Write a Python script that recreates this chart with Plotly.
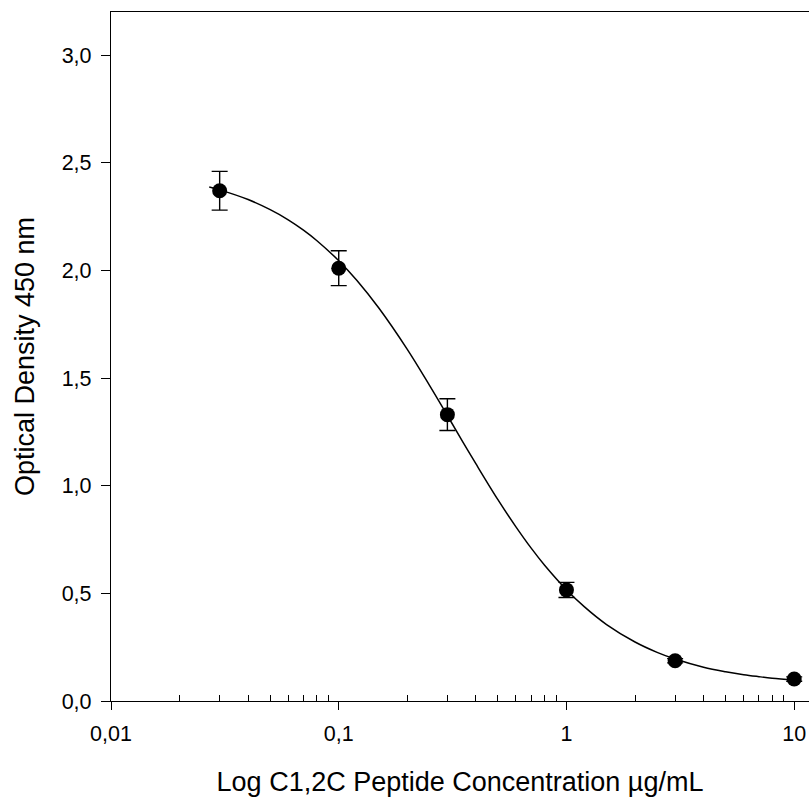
import plotly.graph_objects as go

# Measured points (concentration in µg/mL, optical density at 450 nm)
conc = [0.03, 0.1, 0.3, 1.0, 3.0, 10.0]
od = [2.37, 2.01, 1.33, 0.516, 0.187, 0.102]
od_err = [0.09, 0.081, 0.074, 0.035, 0.01, 0.01]

# Fitted curve values
curve_x = [0.027, 0.03, 0.04, 0.05, 0.06, 0.07, 0.08, 0.1, 0.12, 0.15, 0.2, 0.25,
           0.3, 0.35, 0.4, 0.5, 0.6, 0.7, 0.8, 1.0, 1.2, 1.5, 2.0, 2.5, 3.0, 4.0,
           5.0, 6.0, 7.0, 8.0, 10.0]
curve_y = [2.387, 2.374, 2.329, 2.282, 2.235, 2.187, 2.139, 2.045, 1.954, 1.825,
           1.633, 1.467, 1.326, 1.205, 1.102, 0.935, 0.809, 0.710, 0.632, 0.517,
           0.437, 0.355, 0.274, 0.226, 0.195, 0.157, 0.136, 0.122, 0.113, 0.106,
           0.097]

x_tickvals = [0.01, 0.1, 1, 10]
x_ticktext = ["0,01", "0,1", "1", "10"]
x_minor = [0.02, 0.03, 0.04, 0.05, 0.06, 0.07, 0.08, 0.09,
           0.2, 0.3, 0.4, 0.5, 0.6, 0.7, 0.8, 0.9,
           2, 3, 4, 5, 6, 7, 8, 9]
y_tickvals = [0.0, 0.5, 1.0, 1.5, 2.0, 2.5, 3.0]
y_ticktext = ["0,0", "0,5", "1,0", "1,5", "2,0", "2,5", "3,0"]

font_family = "Liberation Sans, Arial, sans-serif"

fig = go.Figure()
fig.add_trace(go.Scatter(
    x=curve_x, y=curve_y, mode="lines",
    line=dict(color="black", width=1.5, shape="spline"),
    hoverinfo="skip", showlegend=False,
))
fig.add_trace(go.Scatter(
    x=conc, y=od, mode="markers",
    marker=dict(color="black", size=15),
    error_y=dict(type="data", array=od_err, visible=True,
                 color="black", thickness=1.4, width=8),
    showlegend=False,
))

fig.update_layout(
    width=809, height=802,
    margin=dict(l=111, r=0, t=12, b=101, autoexpand=False),
    paper_bgcolor="white", plot_bgcolor="white",
    font=dict(family=font_family, color="black", size=21.5),
)
fig.update_xaxes(
    type="log", range=[-2, 1.065], automargin=False,
    tickmode="array", tickvals=x_tickvals, ticktext=x_ticktext,
    ticks="outside", ticklen=8, tickwidth=1.3, tickcolor="black",
    ticklabelstandoff=5,
    showline=True, linecolor="black", linewidth=1.3, mirror=True,
    showgrid=False, zeroline=False,
    tickfont=dict(size=21.5, family=font_family, color="black"),
    minor=dict(tickmode="array", tickvals=x_minor, ticks="inside",
               ticklen=6, tickwidth=1.3, tickcolor="black", showgrid=False),
    title=dict(text="Log C1,2C Peptide Concentration µg/mL",
               font=dict(size=27, family=font_family, color="black"),
               standoff=27),
)
fig.update_yaxes(
    range=[0, 3.2], automargin=False,
    tickmode="array", tickvals=y_tickvals, ticktext=y_ticktext,
    ticks="outside", ticklen=9, tickwidth=1.3, tickcolor="black",
    ticklabelstandoff=5,
    showline=True, linecolor="black", linewidth=1.3,
    showgrid=False, zeroline=False,
    tickfont=dict(size=21.5, family=font_family, color="black"),
    title=dict(text="Optical Density 450 nm",
               font=dict(size=27, family=font_family, color="black"),
               standoff=19),
)

fig.write_html("out.html",
               config={"displayModeBar": False},
               post_script="document.body.style.margin='0';")
